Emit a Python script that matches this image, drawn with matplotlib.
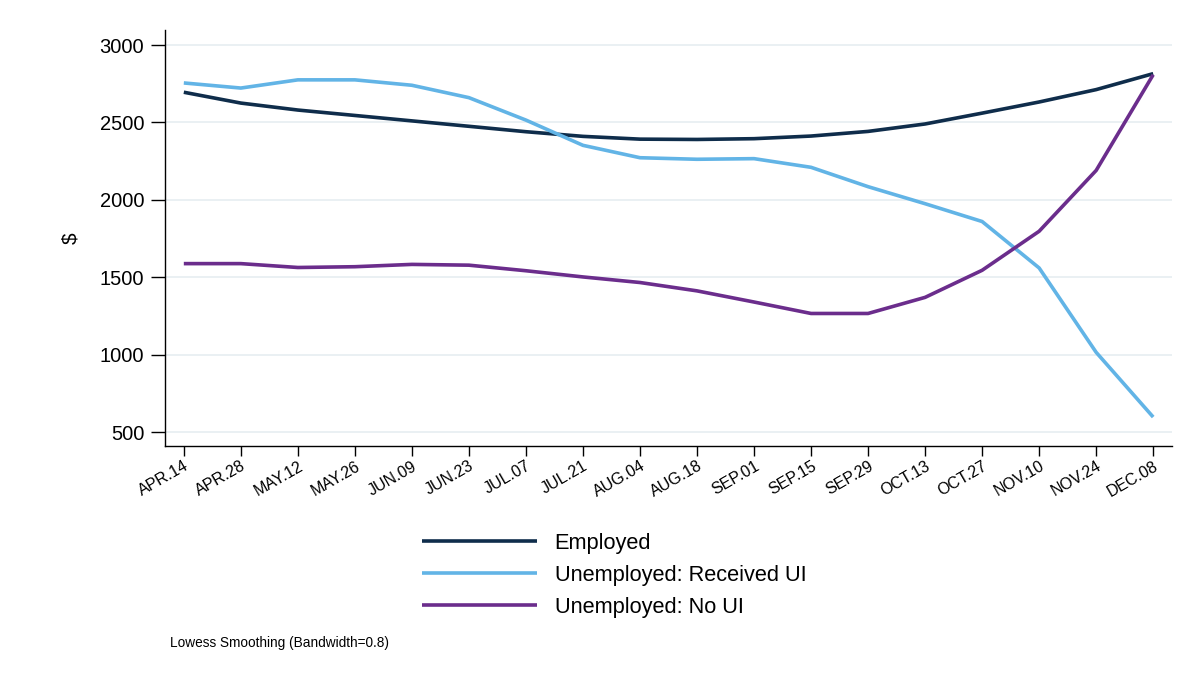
import matplotlib
matplotlib.use("Agg")
import matplotlib.pyplot as plt
import numpy as np

dates = ["APR.14", "APR.28", "MAY.12", "MAY.26", "JUN.09", "JUN.23", "JUL.07", "JUL.21",
         "AUG.04", "AUG.18", "SEP.01", "SEP.15", "SEP.29", "OCT.13", "OCT.27", "NOV.10",
         "NOV.24", "DEC.08"]
employed = [2695, 2625, 2580, 2545, 2510, 2475, 2440, 2410, 2392, 2390, 2395, 2412,
            2442, 2490, 2560, 2632, 2712, 2815]
received_ui = [2755, 2722, 2775, 2775, 2740, 2660, 2515, 2352, 2272, 2262, 2266, 2210,
               2085, 1975, 1860, 1560, 1015, 597]
no_ui = [1588, 1588, 1563, 1568, 1583, 1578, 1542, 1502, 1466, 1412, 1340, 1266,
         1266, 1370, 1545, 1797, 2190, 2808]
y_ticks = [500, 1000, 1500, 2000, 2500, 3000]

plt.rcParams['font.family'] = ['Liberation Sans', 'DejaVu Sans']

fig = plt.figure(figsize=(11.86, 6.76), dpi=100)
ax = fig.add_axes([165/1186, 1 - 446/676, (1172-165)/1186, (446-30)/676])

x = np.arange(len(dates))
c_emp = "#0f2d4b"
c_rec = "#62b4e6"
c_no = "#6b2d8c"
ax.plot(x, employed, color=c_emp, lw=2.6, label="Employed", solid_capstyle="butt")
ax.plot(x, received_ui, color=c_rec, lw=2.6, label="Unemployed: Received UI", solid_capstyle="butt")
ax.plot(x, no_ui, color=c_no, lw=2.6, label="Unemployed: No UI", solid_capstyle="butt")

ax.set_xlim(-0.33, 17.33)
ax.set_ylim(410, 3097)
ax.set_yticks(y_ticks)
ax.set_yticklabels([str(v) for v in y_ticks], fontsize=14.5)
ax.set_xticks(x)
ax.set_xticklabels(dates, rotation=30, ha="right", rotation_mode="anchor", fontsize=11.5)
ax.tick_params(axis="y", length=10, width=1, pad=5)
ax.tick_params(axis="x", length=7, width=1, pad=2)
ax.grid(axis="y", color="#e8eff2", lw=1.3)
ax.set_axisbelow(True)
for s in ["top", "right"]:
    ax.spines[s].set_visible(False)
ax.spines["left"].set_linewidth(1)
ax.spines["bottom"].set_linewidth(1)
ax.set_ylabel("$", fontsize=15, labelpad=14)

fig.legend(loc="upper left", bbox_to_anchor=(413/1186, 1 - 524/676), frameon=False,
           fontsize=15.7, handlelength=5.3, handletextpad=0.8, labelspacing=0.5,
           borderaxespad=0)

fig.text(170/1186, 1 - 643/676, "Lowess Smoothing (Bandwidth=0.8)", fontsize=9.8, va="center")

fig.savefig("out.png", dpi=100)
